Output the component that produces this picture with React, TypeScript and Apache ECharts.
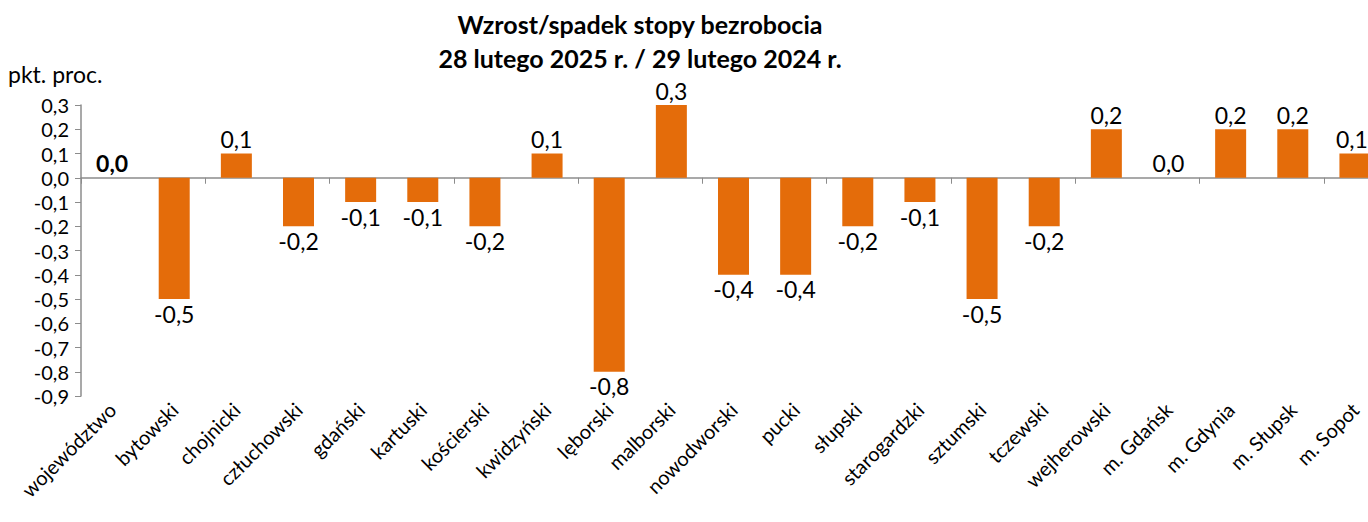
import React, { useEffect, useRef } from "react";
import * as echarts from "echarts";

const categories = [
  "województwo", "bytowski", "chojnicki", "człuchowski", "gdański", "kartuski",
  "kościerski", "kwidzyński", "lęborski", "malborski", "nowodworski", "pucki",
  "słupski", "starogardzki", "sztumski", "tczewski", "wejherowski", "m. Gdańsk",
  "m. Gdynia", "m. Słupsk", "m. Sopot",
];
const values = [
  0.0, -0.5, 0.1, -0.2, -0.1, -0.1, -0.2, 0.1, -0.8, 0.3, -0.4, -0.4, -0.2, -0.1,
  -0.5, -0.2, 0.2, 0.0, 0.2, 0.2, 0.1,
];
const titleLines = ["Wzrost/spadek stopy bezrobocia", "28 lutego 2025 r. / 29 lutego 2024 r."];
const yUnit = "pkt. proc.";

const FONT = "Lato, Carlito, Calibri, sans-serif";
const fmt = (v: number) => (Math.abs(v) < 1e-9 ? "0,0" : v.toFixed(1).replace(".", ","));

export default function App() {
  const ref = useRef<HTMLDivElement>(null);
  useEffect(() => {
    document.body.style.margin = "0";
    const chart = echarts.init(ref.current!, null, { renderer: "svg" });
    chart.setOption({
      animation: false,
      backgroundColor: "#ffffff",
      title: {
        text: titleLines.join("\n"),
        left: 635,
        textAlign: "center",
        top: 2,
        textStyle: { fontFamily: FONT, fontSize: 25, fontWeight: "bold", color: "#000", lineHeight: 34 },
      },
      graphic: [
        {
          type: "text",
          left: 8,
          top: 62,
          style: { text: yUnit, font: `23px ${FONT}`, fill: "#000" },
        },
      ],
      grid: { left: 81, top: 105, width: 1305, height: 291, containLabel: false },
      xAxis: [
        {
          type: "category",
          data: categories,
          position: "bottom",
          axisLine: { show: true, onZero: true, lineStyle: { color: "#8c8c8c", width: 1.5 } },
          axisTick: { show: true, length: 6, inside: false, lineStyle: { color: "#8c8c8c" } },
          axisLabel: { show: false },
        },
        {
          type: "category",
          data: categories,
          position: "bottom",
          axisLine: { show: false, onZero: false },
          axisTick: { show: false },
          axisLabel: {
            show: true,
            rotate: 45,
            interval: 0,
            margin: 10,
            fontFamily: FONT,
            fontSize: 20,
            color: "#000",
          },
        },
      ],
      yAxis: {
        type: "value",
        min: -0.9,
        max: 0.3,
        interval: 0.1,
        splitLine: { show: false },
        axisLine: { show: true, lineStyle: { color: "#8c8c8c", width: 1.5 } },
        axisTick: { show: true, length: 6, lineStyle: { color: "#8c8c8c" } },
        axisLabel: {
          formatter: (v: number) => fmt(v),
          fontFamily: FONT,
          fontSize: 20,
          color: "#000",
          margin: 12,
        },
      },
      series: [
        {
          type: "bar",
          xAxisIndex: 0,
          barWidth: 31,
          itemStyle: { color: "#E46C0A" },
          data: values.map((v, i) => ({
            value: v,
            label: {
              position: v < 0 ? "bottom" : "top",
              fontWeight: i === 0 ? "bold" : "normal",
              offset: i === values.length - 1 ? [-3, 0] : [0, 0],
            },
          })),
          label: {
            show: true,
            distance: 3,
            fontFamily: FONT,
            fontSize: 23,
            color: "#000",
            formatter: (p: any) => fmt(p.value),
          },
        },
      ],
    });
    return () => chart.dispose();
  }, []);
  return (
    <div style={{ width: 1368, height: 522, overflow: "hidden", position: "relative" }}>
      <div ref={ref} style={{ width: 1400, height: 522 }} />
    </div>
  );
}
